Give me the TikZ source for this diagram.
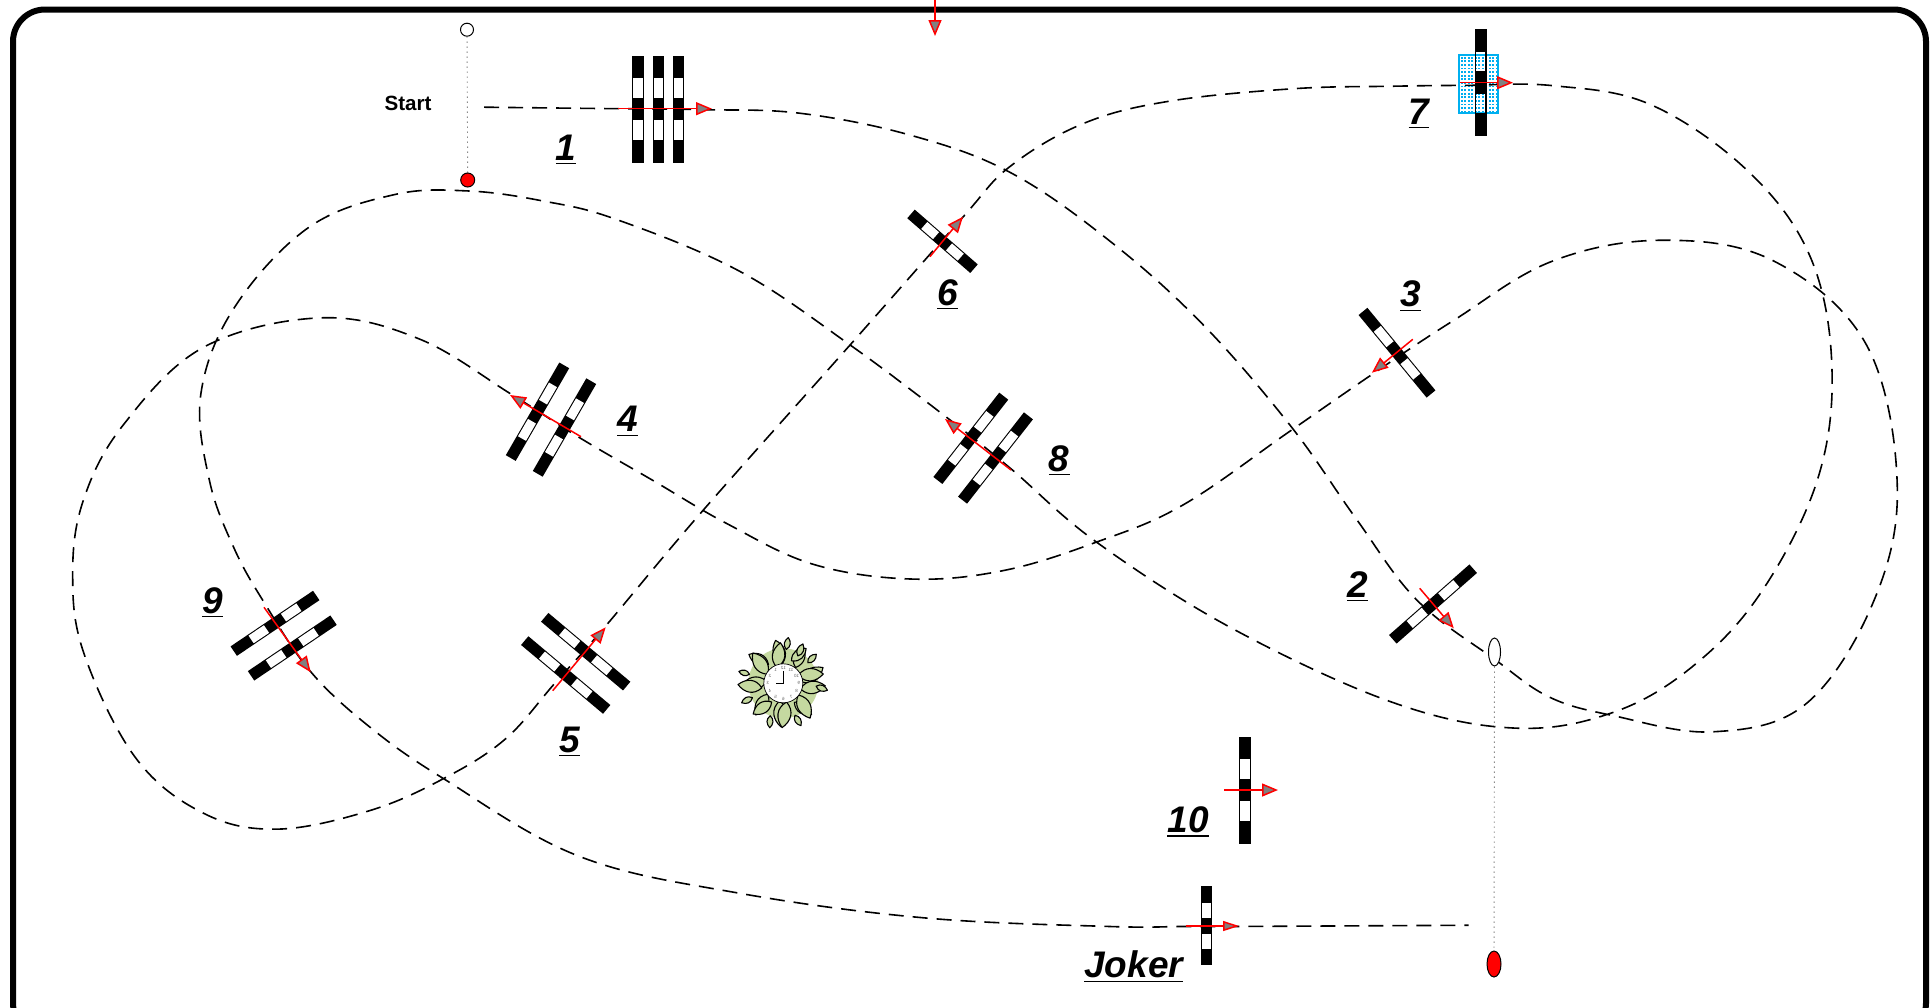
\documentclass[tikz,border=0pt]{standalone}
\usepackage{fontspec}
\setmainfont{Liberation Sans}
\usetikzlibrary{arrows.meta,shapes.geometric}
\definecolor{leafgreen}{HTML}{C5D9A0}
\definecolor{framecyan}{HTML}{00B0F0}
\tikzset{
  redarrow/.style={draw=red,line width=1.5pt,-{Triangle[length=16pt,width=13pt,fill=gray]}},
  flatarrow/.style={draw=red,line width=1.5pt,-{Triangle[length=16pt,width=10pt,fill=gray]}},
  course/.style={draw=black,line width=1.6pt,dash pattern=on 15pt off 9pt},
  buoyline/.style={draw=black!70,line width=0.9pt,dash pattern=on 1pt off 4pt},
  numlabel/.style={anchor=base,inner sep=0pt,font=\fontsize{37}{37}\selectfont\bfseries\itshape},
  leaf/.style={fill=leafgreen,draw=black,line width=1.1pt,line join=round}
}
\newcommand\ulabel[1]{\setbox0=\hbox{#1}\hbox{\rlap{\rule[-4.2pt]{\wd0}{1.3pt}}\box0}}
\newcommand\barmark[4]{%
  \begin{scope}[shift={(#1,#2)},rotate=#3,x=1pt,y=1pt,xscale=#4]
    \fill[black] (-53.5,-5.7) rectangle (53.5,5.7);
    \fill[white] (11,-4.6) rectangle (31,4.6);
    \fill[white] (-31,-4.6) rectangle (-11,4.6);
  \end{scope}}
\newcommand\redarrow[6][redarrow]{%
  \coordinate (#2a) at (#3,#4);
  \coordinate (#2b) at (#5,#6);
  \draw[#1] (#2a) -- (#2b);}
\begin{document}
\begin{tikzpicture}[x=1pt,y=-1pt]
\useasboundingbox (0,0) rectangle (1932,1007);
\fill[white] (0,0) rectangle (1932,1007);
\clip (0,0) rectangle (1932,1007);
% frame
\draw[black,line width=6pt,rounded corners=32pt] (13,9.5) rectangle (1926,1035);

% gates
\barmark{638}{109}{90}{1}
\barmark{658.7}{109}{90}{1}
\barmark{678.7}{109}{90}{1}
\barmark{1433}{604}{41.3}{1}
\barmark{1397}{352.7}{-50.5}{1}
\barmark{537.5}{411.7}{60}{1}
\barmark{564.5}{427.5}{60}{1}
\barmark{585.7}{651.7}{-40}{1}
\barmark{565.7}{675}{-40}{1}
\barmark{942.5}{241.3}{-41}{0.78}
\barmark{970.8}{438.3}{52}{1}
\barmark{995.5}{458}{52}{1}
\barmark{275}{623.3}{34}{0.93}
\barmark{292.3}{648}{34}{0.93}
\barmark{1245}{790}{90}{1}
\barmark{1206.7}{925.8}{90}{0.74}

% gate 7 with the water tray
\fill[white] (1475,30) rectangle (1486.5,136);
\fill[white] (1459,55) rectangle (1498,113);
\foreach \i in {0,...,10}{\foreach \j in {0,...,15}{
  \fill[cyan] ({1460.8+3.5*\i},{56.8+3.6*\j}) rectangle +(1.7,1.7);
}}
\draw[framecyan,line width=1.2pt] (1459,55) rectangle (1498,113);
\fill[black] (1475,29) rectangle (1486.5,51);
\fill[black] (1475,72) rectangle (1486.5,93);
\fill[black] (1475,114) rectangle (1486.5,136);
\draw[black,line width=1.3pt] (1475.6,51) rectangle (1485.9,72);
\draw[black,line width=1.3pt] (1475.6,93) rectangle (1485.9,114);

% course
\begin{scope}[x=1.232pt,y=-1.232pt]
\draw[course] plot[smooth,tension=0.62] coordinates {
(393,87) (480,88) (570,89) (650,92) (740,110) (820,140) (900,195) (975,262) (1047,345)
(1100,420) (1150,487) (1213,535) (1258,566) (1310,581) (1390,594) (1465,572)
(1520,490) (1540,395) (1515,280) (1440,212) (1350,195) (1260,212) (1180,260) (1115,303)
(1047,350) (960,410) (890,440) (815,463) (740,470) (660,458) (590,425) (530,390) (470,355) (415,320)
(340,275) (260,258) (165,282) (100,345) (68,405) (59,465) (68,530) (110,615) (165,660) (225,673) (300,658)
(360,632) (410,600) (450,555) (490,510) (570,415) (690,280) (780,178) (820,135) (880,100)
(950,82) (1050,72) (1130,70) (1190,69.3) (1260,69.5) (1340,85) (1420,140) (1470,210) (1487,300)
(1475,390) (1430,480) (1375,540) (1310,578) (1230,591) (1130,570) (1000,510) (890,440)
(820,380) (770,340) (690,280) (600,220) (500,178) (440,163) (380,155) (320,158) (250,185) (190,250) (163,320)
(170,390) (190,445) (215,490) (252,545) (300,590) (360,632) (470,695) (600,725) (750,745) (900,752) (962,752)
(1005,752) (1192,751)};
\end{scope}

% red arrows
\redarrow{g1}{618}{108.7}{712}{108.7}
\redarrow{g2}{1419.7}{588.3}{1453.8}{628.3}
\redarrow{g3}{1412.8}{339.3}{1371.9}{372.7}
\redarrow{g4}{581}{436.7}{510}{395}
\redarrow{g5}{552.7}{690.7}{605.7}{627.3}
\redarrow{g6}{929.9}{256.7}{963}{216.7}
\redarrow{g7}{1460}{82.7}{1513}{82.7}
\redarrow{g8}{1011}{470}{945}{419}
\redarrow{g9}{264}{607.3}{310.7}{672.3}
\redarrow{g10}{1224}{790}{1278}{790}
\redarrow[flatarrow]{gj}{1186}{926}{1239}{926}
\redarrow{gtop}{935}{0}{935}{36}

% buoys
\node[circle,draw=black,fill=white,line width=1pt,minimum size=13pt,inner sep=0pt] (startw) at (467,29.7) {};
\node[circle,draw=black,fill=red,line width=1pt,minimum size=14pt,inner sep=0pt] (startr) at (467.7,180) {};
\draw[buoyline] (startw) -- (startr);
\node[ellipse,draw=black,fill=white,line width=1pt,minimum width=12pt,minimum height=28pt,inner sep=0pt] (endw) at (1494.5,652) {};
\node[ellipse,draw=black,fill=red,line width=1pt,minimum width=14pt,minimum height=26pt,inner sep=0pt] (endr) at (1494,964) {};
\draw[buoyline] (endw) -- (endr);

% clock in wreath
\begin{scope}[shift={(783.3,683.3)},x=1pt,y=1pt]
  \fill[leafgreen] (0,0) circle (35);
  \foreach \a/\r/\d/\l in {
    5/18/28/26, 28/17/-25/25, 52/20/20/23, 70/24/-30/19, 92/20/15/24, 112/17/-30/25,
    128/24/25/22, 150/18/-25/26, 172/17/20/26, 192/22/-20/24, 215/19/25/24, 238/22/-25/22,
    258/18/15/26, 280/19/-20/26, 300/22/25/21, 322/19/-25/26, 342/18/25/25, 62/31/5/13,
    85/34/-5/12, 40/32/5/12, 205/34/0/12, 165/35/0/11, 355/33/-15/12, 248/35/20/12, 290/34/10/12}
  {
    \begin{scope}[rotate=\a,shift={(\r,0)},rotate=\d,x=1pt,y=1pt]
      \draw[leaf] (0,0) .. controls (0.3*\l,0.36*\l) and (0.7*\l,0.3*\l) .. (\l,0) .. controls (0.7*\l,-0.3*\l) and (0.3*\l,-0.36*\l) .. (0,0) -- cycle;
    \end{scope}
  }
  \fill[white] (0,0) circle (19.5);
  \draw[black,line width=0.7pt] (0,0) circle (19.5);
  \foreach \n in {1,...,12}{
    \node[text=black!60,font=\fontsize{4.5}{4.5}\selectfont,inner sep=0pt,xscale=-1,transform shape] at ({90+30*\n}:15.5) {\n};
  }
  \draw[black,line width=1.4pt] (-7,0) -- (0,0) -- (0,12);
\end{scope}

% labels
\node[anchor=base,inner sep=0pt,font=\fontsize{20.6}{20.6}\selectfont\bfseries] (lstart) at (408,110) {Start};
\node[numlabel] (l1) at (566.2,160) {\ulabel{1}};
\node[numlabel] (l2) at (1357.5,597) {\ulabel{2}};
\node[numlabel] (l3) at (1410.5,306.7) {\ulabel{3}};
\node[numlabel] (l4) at (627.5,431.7) {\ulabel{4}};
\node[numlabel] (l5) at (569.5,752) {\ulabel{5}};
\node[numlabel] (l6) at (947.5,305) {\ulabel{6}};
\node[numlabel] (l7) at (1419,124) {\ulabel{7}};
\node[numlabel] (l8) at (1059.2,471) {\ulabel{8}};
\node[numlabel] (l9) at (212.7,613) {\ulabel{9}};
\node[numlabel] (l10) at (1188,832.5) {\ulabel{10}};
\node[numlabel] (ljoker) at (1133.7,977.7) {\ulabel{Joker}};
\end{tikzpicture}
\end{document}
